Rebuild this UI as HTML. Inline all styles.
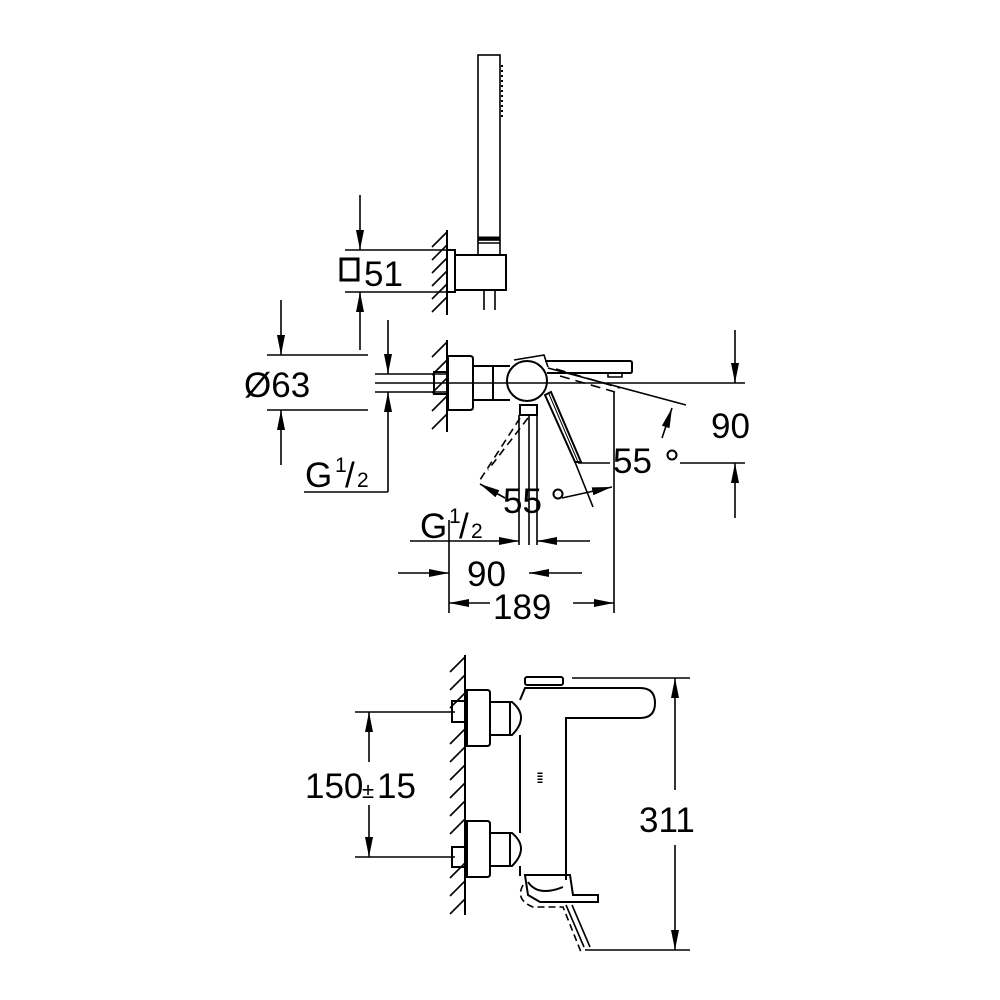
<!DOCTYPE html>
<html><head><style>html,body{margin:0;padding:0;background:#fff}svg{display:block}</style></head><body>
<svg width="1000" height="1000" viewBox="0 0 1000 1000" xmlns="http://www.w3.org/2000/svg" font-family="Liberation Sans, Arial, sans-serif">
<defs>
<marker id="a" viewBox="0 0 20 8" refX="20" refY="4" markerWidth="20" markerHeight="8" markerUnits="userSpaceOnUse" orient="auto"><path d="M0,0 L20,4 L0,8 z" fill="#000"/></marker>
</defs>
<g stroke="#000" stroke-width="1.6" fill="none">
<rect x="478" y="55" width="22" height="185"/>
<path d="M502,65 v55" stroke-dasharray="2,3" stroke-width="2"/>
<line x1="478" y1="238" x2="500" y2="238" stroke-width="3"/>
<line x1="478" y1="243" x2="500" y2="243"/>
<line x1="478" y1="240" x2="478" y2="255"/><line x1="500" y1="240" x2="500" y2="255"/>
<rect x="455" y="255" width="51" height="35" stroke-width="2"/>
<rect x="447" y="250" width="8" height="42" stroke-width="2"/>
<path d="M484,290 v20 M495,290 v20"/>
<line x1="447" y1="230" x2="447" y2="315" stroke-width="2"/>
<path d="M447,232 l-15,15 M447,245 l-15,15 M447,258 l-15,15 M447,271 l-15,15 M447,284 l-15,15 M447,297 l-15,15"/>
<line x1="345" y1="250" x2="447" y2="250"/><line x1="345" y1="292" x2="447" y2="292"/>
<line x1="360" y1="195" x2="360" y2="250" marker-end="url(#a)"/>
<line x1="360" y1="350" x2="360" y2="292" marker-end="url(#a)"/>
<rect x="341" y="259" width="17" height="21" stroke-width="3"/>

<line x1="447" y1="340" x2="447" y2="432" stroke-width="2"/>
<path d="M447,342 l-15,15 M447,360 l-15,15 M447,378 l-15,15 M447,396 l-15,15 M447,414 l-15,15"/>
<path d="M448,356 h22 q3,0 3,3 v48 q0,3 -3,3 h-22 z" stroke-width="2"/>
<rect x="434" y="372" width="13" height="22" stroke-width="2"/>
<path d="M473,366 h37 M473,400 h37 M493,366 v34" stroke-width="2"/>
<circle cx="527" cy="381" r="20" stroke-width="2"/>
<path d="M514,360 l30,-5 l4,12" />
<path d="M545,361 h85 q2,0 2,2 v8 q0,2 -2,2 h-83" stroke-width="2"/>
<path d="M608,373 v4 h14 v-4" />
<path d="M545,395 l6,-3 l30,70 l-6,0 z" stroke-width="2"/>
<line x1="549" y1="394" x2="578" y2="462" stroke-width="1"/>
<line x1="575" y1="462" x2="593" y2="507"/>
<path d="M520,405 h17 v10 h-17 z" stroke-width="2"/>
<path d="M519,415 v130 M529,415 v130 M537,415 v130"/>
<path d="M520,418 L480,480 M528,418 L488,470" stroke-dasharray="8,5"/>
<path d="M556,369 L620,388" stroke-dasharray="10,6"/>
<path d="M560,376 L615,392" stroke-dasharray="10,6"/>
<line x1="548" y1="368" x2="686" y2="405"/>
<line x1="375" y1="383" x2="745" y2="383"/>
<line x1="614" y1="392" x2="614" y2="613"/>
<path d="M578,463 h32 M680,463 h65"/>
<line x1="735" y1="330" x2="735" y2="383" marker-end="url(#a)"/>
<line x1="735" y1="518" x2="735" y2="463" marker-end="url(#a)"/>
<line x1="662" y1="438" x2="672" y2="408" marker-end="url(#a)"/>
<line x1="505" y1="498" x2="480" y2="484" marker-end="url(#a)"/>
<line x1="562" y1="498" x2="612" y2="487" marker-end="url(#a)"/>
<line x1="267" y1="355" x2="368" y2="355"/><line x1="267" y1="410" x2="368" y2="410"/>
<line x1="281" y1="300" x2="281" y2="355" marker-end="url(#a)"/>
<line x1="281" y1="465" x2="281" y2="410" marker-end="url(#a)"/>
<line x1="375" y1="374" x2="447" y2="374"/><line x1="375" y1="392" x2="447" y2="392"/>
<line x1="388" y1="320" x2="388" y2="374" marker-end="url(#a)"/>
<line x1="388" y1="492" x2="388" y2="392" marker-end="url(#a)"/>
<line x1="304" y1="492" x2="388" y2="492"/>
<line x1="410" y1="541" x2="519" y2="541" marker-end="url(#a)"/>
<line x1="590" y1="541" x2="537" y2="541" marker-end="url(#a)"/>
<line x1="398" y1="573" x2="449" y2="573" marker-end="url(#a)"/>
<line x1="582" y1="573" x2="529" y2="573" marker-end="url(#a)"/>
<line x1="449" y1="520" x2="449" y2="613"/>
<line x1="490" y1="603" x2="449" y2="603" marker-end="url(#a)"/>
<line x1="573" y1="603" x2="614" y2="603" marker-end="url(#a)"/>

<line x1="465" y1="655" x2="465" y2="915" stroke-width="2"/>
<path d="M465,657 l-15,15 M465,675 l-15,15 M465,693 l-15,15 M465,729 l-15,15 M465,747 l-15,15 M465,765 l-15,15 M465,783 l-15,15 M465,801 l-15,15 M465,819 l-15,15 M465,863 l-15,15 M465,881 l-15,15 M465,899 l-15,15"/>
<path d="M467,690 h20 q3,0 3,3 v50 q0,3 -3,3 h-20 z" stroke-width="2"/>
<path d="M467,821 h20 q3,0 3,3 v50 q0,3 -3,3 h-20 z" stroke-width="2"/>
<rect x="452" y="701" width="13" height="21" stroke-width="2"/>
<rect x="452" y="847" width="13" height="20" stroke-width="2"/>
<path d="M490,702 h22 q18,15 0,33 h-22 M510,702 v33" stroke-width="2"/>
<path d="M490,833 h22 q18,15 0,33 h-22 M510,833 v33" stroke-width="2"/>
<path d="M520,735 v98 M520,866 v10" stroke-width="2"/>
<path d="M520,700 l5,-12 h115 q15,0 15,15 q0,15 -15,15 h-74 v162" stroke-width="2"/>
<rect x="525" y="677" width="38" height="8" rx="2" stroke-width="2"/>
<path d="M525,875 h45 l3,20 h25 v7 h-58 l-12,-7 z" stroke-width="2"/>
<path d="M528,882 q10,15 35,5" stroke-width="2"/>
<path d="M523,885 q-8,15 10,22 h30 l18,45" stroke-dasharray="7,4"/>
<path d="M566,905 l18,42 M572,905 l18,42"/>
<path d="M540,783 v-12" stroke-width="5" stroke-dasharray="1.5,1.5"/>
<line x1="355" y1="712" x2="455" y2="712"/><line x1="355" y1="857" x2="455" y2="857"/>
<line x1="369" y1="762" x2="369" y2="712" marker-end="url(#a)"/>
<line x1="369" y1="805" x2="369" y2="857" marker-end="url(#a)"/>
<line x1="572" y1="678" x2="690" y2="678"/><line x1="585" y1="950" x2="690" y2="950"/>
<line x1="675" y1="790" x2="675" y2="678" marker-end="url(#a)"/>
<line x1="675" y1="845" x2="675" y2="950" marker-end="url(#a)"/>
</g>
<g fill="#000" font-size="35">
<text x="364" y="286">51</text>
<text x="244" y="397">Ø63</text>
<text x="305" y="487">G</text><text x="335" y="472" font-size="21">1</text><text x="345" y="487">/</text><text x="357" y="487" font-size="21">2</text>
<text x="711" y="438">90</text>
<text x="613" y="473">55</text><circle cx="672" cy="455" r="4.5" fill="none" stroke="#000" stroke-width="2"/>
<text x="503" y="513">55</text><circle cx="558" cy="494" r="4.5" fill="none" stroke="#000" stroke-width="2"/>
<text x="420" y="538">G</text><text x="449" y="523" font-size="21">1</text><text x="459" y="538">/</text><text x="471" y="538" font-size="21">2</text>
<text x="467" y="586">90</text>
<text x="493" y="619">189</text>
<text x="305" y="798">150</text><text x="362" y="798" font-size="22">±</text><text x="377" y="798">15</text>
<text x="639" y="832">311</text>
</g>
</svg>
</body></html>
